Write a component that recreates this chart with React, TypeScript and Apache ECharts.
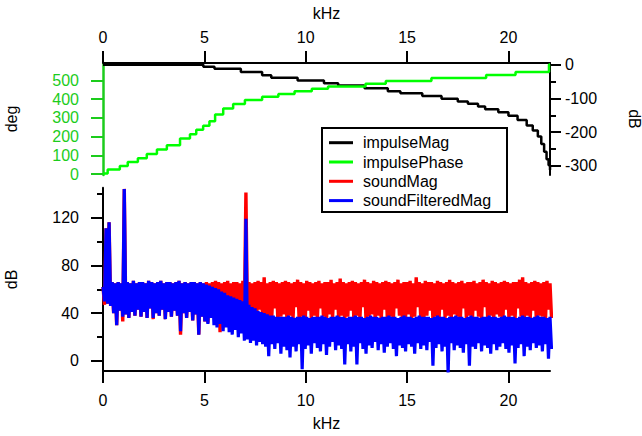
import React, { useEffect, useRef } from "react";
import * as echarts from "echarts";

// ---------- data ----------
// impulse response magnitude (dB, right axis of top panel) as a staircase
const magFreq = [0, 4.95, 5.5, 6.8, 7.85, 8.3, 9.6, 10.9, 11.6, 12.9, 14.05, 14.67, 15.75, 16.7, 17.5, 18.0, 18.5, 18.85, 19.5, 20.0, 20.45, 20.9, 21.2, 21.45, 21.62, 21.76, 21.88, 21.98, 22.05];
const magDb = [0, -6, -12, -22, -31, -39, -47, -55, -62, -70, -79, -85, -93, -101, -109, -116, -124, -132, -141, -151, -164, -180, -195, -213, -235, -258, -280, -298, -312];

// impulse response phase (deg, left axis of top panel) as a staircase
const phaseFreq = [0, 0.23, 0.83, 1.22, 1.72, 2.16, 2.66, 3.15, 3.8, 4.29, 4.6, 4.94, 5.25, 5.53, 5.93, 6.42, 7.0, 7.85, 8.65, 9.45, 10.3, 11.1, 12.95, 13.95, 16.2, 18.9, 20.35, 22.0, 22.05];
const phaseDeg = [3, 24, 43, 65, 85, 107, 131, 154, 190, 213, 236, 258, 282, 318, 350, 374, 395, 413, 428, 442, 455, 468, 482, 497, 513, 529, 545, 585, 585];

// spectra: one high / low pair per 0.15 kHz bin (bin i starts at i * 0.15 kHz)
const FREQ_STEP_KHZ = 0.15;
const soundMagHi = [
  62, 111, 116, 66, 65, 66, 65, 144, 66, 65,
  67, 65, 66, 66, 65, 67, 66, 65, 66, 67,
  65, 66, 66, 65, 66, 67, 65, 66, 65, 66,
  66, 65, 66, 65, 66, 65, 66, 67, 66, 65,
  66, 67, 65, 66, 66, 65, 67, 141, 66, 65,
  66, 67, 66, 70, 65, 66, 67, 66, 65, 66,
  67, 66, 65, 66, 68, 66, 65, 67, 66, 65,
  66, 67, 65, 66, 66, 68, 65, 66, 69, 66,
  65, 66, 67, 66, 65, 66, 68, 66, 65, 67,
  66, 65, 66, 67, 66, 65, 66, 68, 65, 66,
  66, 67, 65, 70, 66, 65, 67, 66, 66, 65,
  67, 66, 65, 66, 68, 66, 65, 66, 67, 65,
  66, 66, 67, 65, 66, 68, 66, 65, 67, 66,
  65, 66, 67, 66, 65, 66, 66, 68, 70, 66,
  65, 66, 67, 66, 65, 66, 67, 65,
];
const soundMagLo = [
  47, 48, 46, 40, 30, 42, 33, 39, 36, 41,
  38, 43, 37, 41, 36, 44, 35, 40, 38, 43,
  35, 41, 37, 42, 38, 22, 40, 36, 41, 34,
  39, 22, 37, 33, 32, 38, 36, 35, 24, 37,
  34, 39, 36, 38, 35, 37, 40, 36, 38, 35,
  37, 43, 35, 38, 34, 36, 44, 35, 37, 39,
  34, 38, 36, 45, 35, 37, 34, 42, 36, 38,
  35, 44, 37, 34, 39, 36, 43, 35, 38, 34,
  37, 42, 35, 38, 36, 45, 34, 37, 39, 35,
  38, 34, 43, 36, 37, 35, 44, 38, 34, 36,
  39, 35, 37, 45, 36, 34, 38, 42, 35, 37,
  34, 43, 36, 38, 35, 39, 37, 34, 44, 36,
  38, 35, 42, 37, 34, 45, 36, 38, 35, 39,
  37, 34, 43, 36, 38, 35, 44, 37, 34, 38,
  36, 42, 35, 38, 37, 34, 43, 36,
];
const filteredHi = [
  62, 111, 116, 66, 65, 66, 65, 144, 66, 65,
  67, 65, 66, 66, 65, 67, 66, 65, 66, 67,
  65, 66, 66, 65, 66, 67, 65, 66, 65, 66,
  66, 65, 66, 65, 64, 63, 62, 61, 60, 58,
  57, 55, 54, 53, 52, 51, 50, 119, 47, 45,
  44, 42, 41, 40, 39, 38, 38, 37, 37, 37,
  37, 38, 37, 36, 37, 37, 38, 37, 36, 37,
  37, 37, 38, 37, 36, 37, 37, 38, 37, 37,
  36, 37, 37, 38, 37, 37, 36, 37, 38, 37,
  37, 36, 37, 37, 38, 37, 37, 36, 37, 38,
  37, 37, 36, 37, 38, 37, 37, 37, 36, 37,
  38, 37, 37, 36, 37, 37, 38, 37, 37, 36,
  37, 38, 37, 37, 36, 37, 37, 38, 37, 37,
  36, 37, 38, 37, 37, 37, 36, 37, 38, 37,
  37, 36, 37, 38, 37, 37, 36, 37,
];
const filteredLo = [
  50, 48, 46, 40, 30, 42, 37, 39, 36, 41,
  38, 43, 37, 41, 36, 44, 36, 40, 38, 43,
  35, 41, 37, 42, 38, 25, 40, 36, 41, 34,
  39, 22, 37, 33, 31, 36, 30, 28, 31, 25,
  28, 24, 22, 26, 20, 23, 17, 18, 15, 17,
  13, 16, 14, 12, 4, 14, 10, 15, 6, 12,
  9, 3, 12, 8, 14, -7, 10, 13, 6, 15,
  11, 8, 14, 5, 12, 16, 9, 13, 10, -3,
  14, 8, 12, -3, 15, 10, 6, 13, 11, 16,
  9, 14, 7, 12, 15, 10, 4, 13, 11, 8,
  14, 12, 6, 15, 10, 13, 9, 16, -4, 11,
  14, 8, 12, -10, 15, 9, 13, 11, 7, 14,
  -4, 12, 10, 15, 8, 13, 11, 6, 14, 9,
  12, 15, 10, 7, 13, -2, 11, 14, 4, 12,
  9, 15, 11, 13, 8, 14, 2, 10,
];

// axis ticks
const kHzMax = 22.05;
const kHzTicks = [0, 5, 10, 15, 20];
const degTicks = [0, 100, 200, 300, 400, 500];
const dbTopMajor = [0, -100, -200, -300];
const dbTopMinor = [-50, -150, -250];
const dbBottomMajor = [0, 40, 80, 120];
const dbBottomMinor = [20, 60, 100, 140];
const legendNames = ["impulseMag", "impulsePhase", "soundMag", "soundFilteredMag"];
const legendColors = ["#000000", "#00ff00", "#ff0000", "#0000ff"];

// ---------- helpers ----------
const FONT = '"Liberation Sans", Arial, Helvetica, sans-serif';
const GREEN_AXIS = "#1ccc1c";

function pairs(xs: number[], ys: number[]) {
  return xs.map((x, i) => [x, ys[i]]);
}
function band(hi: number[], lo: number[]) {
  const pts: number[][] = [];
  hi.forEach((h, i) => {
    const f = i * FREQ_STEP_KHZ;
    pts.push([f, h]);
    pts.push([f + FREQ_STEP_KHZ / 2, lo[i]]);
  });
  return pts;
}

const TOP_GRID = { left: 103, top: 63, width: 447, height: 112 };
const BOT_GRID = { left: 103, top: 187.7, width: 447, height: 183.3 };

function xAxisBase(gridIndex: number, margin: number) {
  return {
    gridIndex,
    type: "value",
    min: 0,
    max: kHzMax,
    splitLine: { show: false },
    axisLine: { onZero: false, lineStyle: { color: "#000", width: 2 } },
    axisTick: { customValues: kHzTicks, length: 12, lineStyle: { color: "#000", width: 2 } },
    axisLabel: { customValues: kHzTicks, margin, fontFamily: FONT, fontSize: 16, color: "#000" },
    nameTextStyle: { fontFamily: FONT, fontSize: 16, color: "#000" },
  };
}

function buildOption() {
  const legendGraphic: any[] = [
    {
      type: "rect",
      z: 100,
      shape: { x: 322, y: 128, width: 185, height: 84 },
      style: { fill: "#fff", stroke: "#000", lineWidth: 2 },
    },
  ];
  legendNames.forEach((name, k) => {
    const y = 142.7 + k * 19.3;
    legendGraphic.push({
      type: "line",
      z: 101,
      shape: { x1: 329, y1: y, x2: 353, y2: y },
      style: { stroke: legendColors[k], lineWidth: 3 },
    });
    legendGraphic.push({
      type: "text",
      z: 101,
      x: 363,
      y,
      style: { text: name, font: `16px ${FONT}`, fill: "#000", verticalAlign: "middle", align: "left" },
    });
  });

  return {
    animation: false,
    backgroundColor: "#fff",
    grid: [TOP_GRID, BOT_GRID, TOP_GRID, BOT_GRID].map((g) => ({
      ...g,
      containLabel: false,
      outerBoundsMode: "none",
    })),
    xAxis: [
      { ...xAxisBase(0, 18), position: "top", name: "kHz", nameLocation: "middle", nameGap: 42 },
      { ...xAxisBase(1, 21), position: "bottom", name: "kHz", nameLocation: "middle", nameGap: 44 },
      { ...xAxisBase(2, 8), show: false },
      { ...xAxisBase(3, 8), show: false },
    ],
    yAxis: [
      {
        gridIndex: 0,
        type: "value",
        position: "left",
        min: -5,
        max: 593,
        name: "deg",
        nameLocation: "middle",
        nameRotate: 90,
        nameGap: 84,
        nameTextStyle: { fontFamily: FONT, fontSize: 16, color: "#000" },
        splitLine: { show: false },
        axisLine: { onZero: false, lineStyle: { color: GREEN_AXIS, width: 2.5 } },
        axisTick: { customValues: degTicks, length: 12, lineStyle: { color: GREEN_AXIS, width: 2 } },
        axisLabel: { customValues: degTicks, margin: 24, fontFamily: FONT, fontSize: 16, color: GREEN_AXIS },
      },
      {
        gridIndex: 0,
        type: "value",
        position: "right",
        min: -327,
        max: 5,
        name: "dB",
        nameLocation: "middle",
        nameRotate: -90,
        nameGap: 76,
        nameTextStyle: { fontFamily: FONT, fontSize: 16, color: "#000" },
        splitLine: { show: false },
        axisLine: { onZero: false, lineStyle: { color: "#000", width: 2 } },
        axisTick: { customValues: dbTopMajor, length: 11, lineStyle: { color: "#000", width: 2 } },
        axisLabel: { customValues: dbTopMajor, margin: 15, fontFamily: FONT, fontSize: 16, color: "#000" },
      },
      {
        gridIndex: 1,
        type: "value",
        position: "left",
        min: -8.4,
        max: 145,
        name: "dB",
        nameLocation: "middle",
        nameRotate: 90,
        nameGap: 84,
        nameTextStyle: { fontFamily: FONT, fontSize: 16, color: "#000" },
        splitLine: { show: false },
        axisLine: { onZero: false, lineStyle: { color: "#000", width: 2 } },
        axisTick: { customValues: dbBottomMajor, length: 12, lineStyle: { color: "#000", width: 2 } },
        axisLabel: { customValues: dbBottomMajor, margin: 24, fontFamily: FONT, fontSize: 16, color: "#000" },
      },
      {
        gridIndex: 2,
        type: "value",
        position: "right",
        min: -327,
        max: 5,
        splitLine: { show: false },
        axisLine: { show: false, onZero: false },
        axisTick: { customValues: dbTopMinor, length: 6, lineStyle: { color: "#000", width: 2 } },
        axisLabel: { show: false },
      },
      {
        gridIndex: 3,
        type: "value",
        position: "left",
        min: -8.4,
        max: 145,
        splitLine: { show: false },
        axisLine: { show: false, onZero: false },
        axisTick: { customValues: dbBottomMinor, length: 6, lineStyle: { color: "#000", width: 2 } },
        axisLabel: { show: false },
      },
    ],
    series: [
      {
        name: "impulseMag",
        type: "line",
        xAxisIndex: 0,
        yAxisIndex: 1,
        step: "end",
        symbol: "none",
        z: 2,
        lineStyle: { color: "#000", width: 2.5 },
        data: pairs(magFreq, magDb),
      },
      {
        name: "impulsePhase",
        type: "line",
        xAxisIndex: 0,
        yAxisIndex: 0,
        step: "end",
        symbol: "none",
        z: 3,
        lineStyle: { color: "#00ff00", width: 2.5 },
        data: pairs(phaseFreq, phaseDeg),
      },
      {
        name: "soundMag",
        type: "line",
        xAxisIndex: 1,
        yAxisIndex: 2,
        symbol: "none",
        z: 2,
        lineStyle: { color: "#ff0000", width: 3.4, join: "bevel" },
        data: band(soundMagHi, soundMagLo),
      },
      {
        name: "soundFilteredMag",
        type: "line",
        xAxisIndex: 1,
        yAxisIndex: 2,
        symbol: "none",
        z: 3,
        lineStyle: { color: "#0000ff", width: 3.2, join: "bevel" },
        data: band(filteredHi, filteredLo),
      },
    ],
    graphic: legendGraphic,
  };
}

export default function App() {
  const ref = useRef<HTMLDivElement>(null);
  useEffect(() => {
    if (!ref.current) return;
    const chart = echarts.init(ref.current, null, { renderer: "svg" });
    chart.setOption(buildOption() as any);
    return () => chart.dispose();
  }, []);
  return (
    <div
      ref={ref}
      style={{ position: "fixed", left: 0, top: 0, width: 642, height: 436, background: "#fff" }}
    />
  );
}
